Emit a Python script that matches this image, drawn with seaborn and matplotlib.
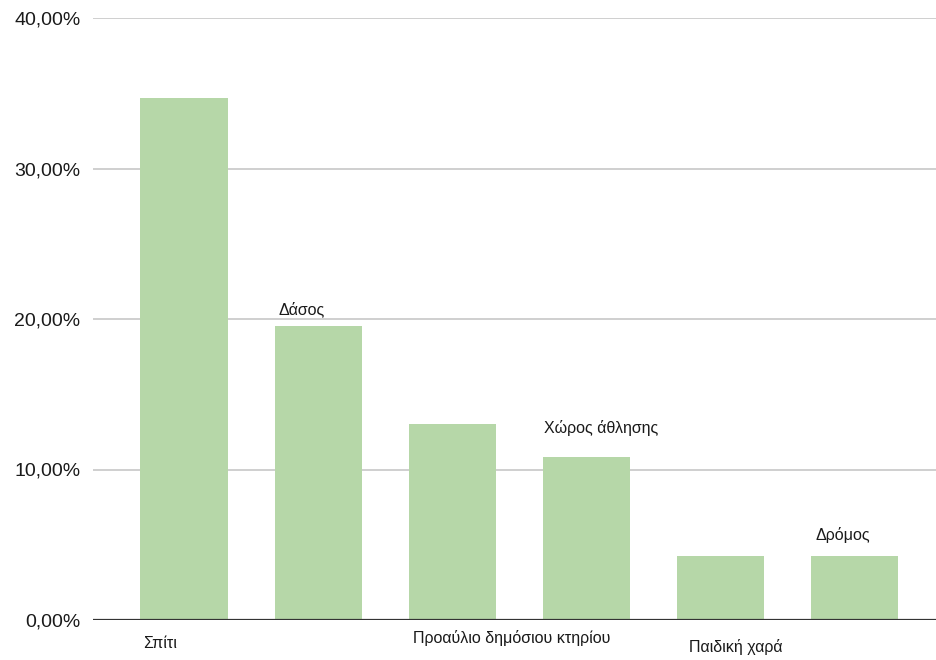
import numpy as np
import pandas as pd
import seaborn as sns
import matplotlib.pyplot as plt

# data
places = ['Σπίτι', 'Δάσος', 'Προαύλιο δημόσιου κτηρίου', 'Χώρος άθλησης', 'Παιδική χαρά', 'Δρόμος']
shares = [0.3470, 0.1955, 0.1300, 0.1085, 0.0425, 0.0425]
# label placement: above the bar or below the axis (like the original sheet export)
label_above = [False, True, False, True, False, True]
label_dy = [-24, 17, -18, 29, -27, 21]   # pixels from bar top / baseline
label_dx = [3, 4, 4, 1, 12, 5]          # pixels from bar left edge
yticks = [0, 0.1, 0.2, 0.3, 0.4]
ytick_labels = ['0,00%', '10,00%', '20,00%', '30,00%', '40,00%']

df = pd.DataFrame({'place': places, 'share': shares})

sns.set_style('white')
plt.rcParams['font.family'] = ['Liberation Sans', 'DejaVu Sans']

fig = plt.figure(figsize=(9.37, 6.6), dpi=100)
ax = fig.add_axes([93 / 937, 40 / 660, 1 - 93 / 937, (620 - 18) / 660])

bar_w = 0.65
sns.barplot(data=df, x='place', y='share', color='#b6d7a8', saturation=1,
            width=bar_w, ax=ax, zorder=3)
for p in ax.patches:
    p.set_edgecolor('none')

ax.set_ylim(0, 0.4)
ax.set_xlim(-0.679, 5.615)
ax.set_yticks(yticks)
ax.set_yticklabels(ytick_labels, fontsize=14, color='#1a1a1a')
ax.tick_params(axis='y', length=0, pad=9)
ax.set_xticks([])
ax.set_xlabel('')
ax.set_ylabel('')
ax.grid(axis='y', color='#cccccc', linewidth=1.3, zorder=0)
for s in ax.spines.values():
    s.set_visible(False)
ax.axhline(0, color='#333333', linewidth=1.6, zorder=4)

for i, (name, val) in enumerate(zip(places, shares)):
    base = val if label_above[i] else 0
    ax.annotate(name, xy=(i - bar_w / 2, base),
                xytext=(label_dx[i] * 0.72, label_dy[i] * 0.72),
                textcoords='offset points', ha='left', va='center',
                fontsize=11.5, color='#1a1a1a', annotation_clip=False)

fig.savefig('out.png', dpi=100)
